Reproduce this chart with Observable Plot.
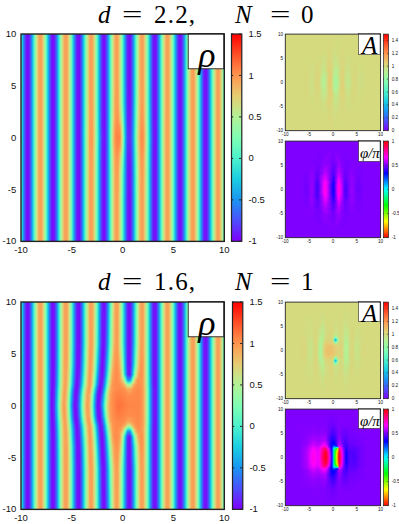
<!DOCTYPE html>
<html>
<head>
<meta charset="utf-8">
<script src="https://cdn.jsdelivr.net/npm/d3@7"></script>
<script src="https://cdn.jsdelivr.net/npm/@observablehq/plot@0.6"></script>
<style>
html,body{margin:0;padding:0;background:#fff;width:399px;height:524px;overflow:hidden}
#c{position:relative;width:399px;height:524px}
.t{position:absolute;left:0;width:399px;height:30px;font:25px/29px "Liberation Serif",serif;white-space:nowrap;color:#000}
.t span{position:absolute;top:0}
.t .e{transform:scaleX(1.45);transform-origin:left center}
.t .n{letter-spacing:1.2px}
.t .v{font-style:italic}
</style>
</head>
<body>
<div id="c"></div>
<script>
const titles = [["d","2.2,","N","0"],["d","1.6,","N","1"]];
const axisTicks = [-10,-5,0,5,10];
const rhoTicks = [-1,-0.5,0,0.5,1,1.5];
const ampTicks = [0,0.2,0.4,0.6,0.8,1,1.2,1.4];
const phaseTicks = [-1,-0.5,0,0.5,1];
const rainbowStops = ["#8000ff","#4c4ffc","#1a96f2","#1acee3","#4cf2ce","#80ffb4","#b3f296","#e6ce74","#ff964f","#ff4f28","#ff0000"];
const hsvStops = ["#ff0000","#ffff00","#00ff00","#00ffff","#0000ff","#ff00ff","#ff0000"];

// rho: far-field stripe profile, x = -10 ... 10 in steps of 0.25
const rhoFar = [.06,-.54,-.93,-.97,-.64,-.06,.54,.93,.97,.64,.06,-.54,-.93,-.97,-.64,-.06,.54,.93,.97,.64,.06,-.54,-.93,-.97,-.64,-.06,.54,.93,.97,.64,.06,-.54,-.93,-.97,-.64,-.06,.54,.93,.97,.64,.06,-.54,-.93,-.97,-.64,-.06,.54,.93,.97,.64,.06,-.54,-.93,-.97,-.64,-.06,.54,.93,.97,.64,.06,-.54,-.93,-.97,-.64,-.06,.54,.93,.97,.64,.06,-.54,-.93,-.97,-.64,-.06,.54,.93,.97,.64,.06];

// d = 2.2: central rows, x = -3.5 ... 4
const rhoTopY = [0,1,2,3.5];
const rhoTop0 = [.55,.95,1,.68,.1,-.5,-.9,-.97,-.65,0,.68,1.02,1.08,1.05,.5,-.38,-.84,-.87,-.55,.08,.68,1.0,1.04,.72,.1,-.5,-.9,-.97,-.64,-.05,.55];
const rhoTop1 = [.54,.94,.99,.66,.08,-.52,-.92,-.97,-.65,-.02,.62,1,1.05,.98,.42,-.42,-.87,-.9,-.58,.05,.64,.98,1.03,.7,.08,-.52,-.92,-.97,-.64,-.05,.55];
const rhoTop2 = [.54,.93,.98,.65,.07,-.53,-.93,-.97,-.64,-.04,.57,.96,1.02,.78,.24,-.46,-.9,-.93,-.6,0,.58,.95,1,.66,.07,-.53,-.93,-.97,-.64,-.06,.54];
const rhoTop3 = [.54,.93,.97,.64,.06,-.54,-.93,-.97,-.64,-.05,.55,.94,.99,.68,.1,-.5,-.92,-.96,-.63,-.04,.55,.93,.98,.65,.06,-.54,-.93,-.97,-.64,-.06,.54];

// d = 1.6: central rows, x = -7 ... 4.5
const rhoBotY = [0,1,1.6,2,2.25,2.5,3,4,6];
const rhoBot0 = [-.99,-.87,-.38,.26,.79,1,.75,.13,-.56,-.97,-.91,-.5,.12,.69,.99,.84,.24,-.48,-.96,-.93,-.5,.12,.72,.96,1.03,1.07,1.12,1.12,1.1,1.08,1.06,1.05,1.05,1.05,1.05,1.04,.98,.68,.12,-.5,-.9,-.97,-.64,-.06,.54,.93,.97];
const rhoBot1 = [-.98,-.9,-.45,.18,.72,.99,.8,.22,-.46,-.92,-.95,-.6,0,.6,.95,.89,.36,-.36,-.88,-.98,-.67,-.05,.6,.92,1.02,1.05,1.08,1.08,1.06,1.05,1.03,1.03,1.04,1.04,1.05,1.03,.98,.7,.12,-.5,-.9,-.97,-.64,-.06,.54,.93,.97];
const rhoBot2 = [-.96,-.93,-.5,.1,.66,.97,.85,.35,-.32,-.84,-.99,-.72,-.15,.45,.88,.98,.56,-.12,-.72,-1,-.8,-.3,.4,.85,1,1.03,1.04,1.04,1.03,1,.9,.92,1,1.03,1.04,1.03,.98,.68,.1,-.5,-.9,-.97,-.64,-.06,.54,.93,.97];
const rhoBot3 = [-.95,-.95,-.55,.05,.62,.95,.9,.45,-.2,-.75,-1,-.8,-.3,.3,.8,1,.75,.1,-.55,-.95,-.9,-.45,.2,.75,1,1.03,1.03,1.03,.95,.8,.5,.45,.85,1,1.03,1.01,.97,.66,.08,-.52,-.92,-.97,-.64,-.06,.54,.93,.97];
const rhoBot4 = [-.94,-.96,-.56,.03,.61,.94,.91,.48,-.17,-.72,-.99,-.83,-.35,.27,.77,1,.78,.15,-.5,-.92,-.92,-.52,.12,.7,.98,1.03,1.03,1,.85,.5,-.1,-.1,.55,.9,1.02,1.01,.97,.65,.07,-.53,-.93,-.97,-.64,-.06,.54,.93,.97];
const rhoBot5 = [-.94,-.96,-.58,.02,.6,.94,.92,.5,-.15,-.7,-.98,-.85,-.38,.22,.75,1,.8,.2,-.45,-.9,-.95,-.58,.05,.65,.96,1.03,1.02,.97,.75,.15,-.55,-.55,.25,.85,1,1.01,.97,.65,.07,-.53,-.93,-.97,-.64,-.06,.54,.93,.97];
const rhoBot6 = [-.93,-.96,-.6,0,.58,.93,.93,.55,-.1,-.65,-.97,-.9,-.45,.15,.7,1,.85,.3,-.35,-.85,-.98,-.7,-.1,.55,.93,1.03,1.03,.95,.5,-.35,-.9,-.95,-.3,.45,.9,1.03,.99,.65,.06,-.54,-.93,-.97,-.64,-.06,.54,.93,.97];
const rhoBot7 = [-.93,-.97,-.62,-.03,.56,.93,.96,.6,.01,-.58,-.95,-.95,-.55,.03,.62,.97,.9,.45,-.2,-.75,-1,-.8,-.3,.35,.8,1,1.01,.85,.3,-.45,-.92,-.97,-.5,.15,.7,1,.99,.65,.06,-.54,-.93,-.97,-.64,-.06,.54,.93,.97];
const rhoBot8 = [-.93,-.97,-.64,-.06,.54,.93,.97,.64,.06,-.54,-.93,-.97,-.64,-.06,.54,.93,.97,.6,0,-.6,-.96,-.92,-.52,.08,.62,.95,.97,.66,.1,-.52,-.93,-.97,-.62,-.03,.56,.94,.97,.64,.06,-.54,-.93,-.97,-.64,-.06,.54,.93,.97];

// A, d = 2.2
const ampTopX = [-10,-6.5,-5.6,-4.35,-3.1,-1.9,-.6,.6,1.9,3.1,4.4,5.65,7,10];
const ampTopY = [0,1,2,3.5,5,7,10];
const ampTop0 = [1,1,1.01,.97,1.03,.89,1.08,.84,1.05,.93,1.02,.98,1,1];
const ampTop1 = [1,1,1.01,.98,1.03,.9,1.07,.86,1.05,.94,1.02,.98,1,1];
const ampTop2 = [1,1,1.01,.98,1.02,.93,1.06,.9,1.04,.96,1.01,.99,1,1];
const ampTop3 = [1,1,1,.99,1.01,.96,1.04,.94,1.02,.98,1.01,.99,1,1];
const ampTop4 = [1,1,1,1,1,.98,1.02,.97,1.01,.99,1,1,1,1];
const ampTop5 = [1,1,1,1,1,1,1.01,.99,1,1,1,1,1,1];
const ampTop6 = [1,1,1,1,1,1,1,1,1,1,1,1,1,1];

// phi/pi, d = 2.2
const phaseTopX = [-10,-6.5,-5.5,-4.4,-3.2,-1.6,.1,1.2,2.6,3.9,5.2,6.5,10];
const phaseTopY = [0,1,2,3,4,5.5,8,10];
const phaseTop0 = [.5,.5,.48,.54,.41,.72,.33,.74,.42,.54,.47,.5,.5];
const phaseTop1 = [.5,.5,.48,.53,.42,.7,.34,.72,.43,.53,.48,.5,.5];
const phaseTop2 = [.5,.5,.49,.53,.44,.65,.38,.67,.45,.53,.48,.5,.5];
const phaseTop3 = [.5,.5,.49,.52,.46,.6,.42,.61,.47,.52,.49,.5,.5];
const phaseTop4 = [.5,.5,.5,.51,.48,.56,.45,.57,.48,.51,.49,.5,.5];
const phaseTop5 = [.5,.5,.5,.5,.49,.52,.48,.53,.49,.5,.5,.5,.5];
const phaseTop6 = [.5,.5,.5,.5,.5,.5,.5,.5,.5,.5,.5,.5,.5];
const phaseTop7 = [.5,.5,.5,.5,.5,.5,.5,.5,.5,.5,.5,.5,.5];

// A, d = 1.6
const ampBotX = [-10,-7,-6,-4.75,-3.5,-2.6,-2.1,-1.6,-.8,0,.2,.5,.8,1.2,1.9,2.7,3.9,5,6.2,7.5,10];
const ampBotY = [0,1,1.7,2.15,2.6,3.2,4.5,6,8,10];
const ampBot0 = [1,1,1.02,.95,1.03,.86,.98,1.08,1.09,1.08,1.07,1.05,1.03,1.03,1.03,.88,1.03,.95,1.01,1,1];
const ampBot1 = [1,1,1.02,.95,1.03,.87,.97,1.07,1.08,1.07,1.06,1.04,1.02,1.02,1.03,.88,1.03,.95,1.01,1,1];
const ampBot2 = [1,1,1.01,.96,1.03,.89,.95,1.03,1.04,1.02,.95,.62,.88,1,1.02,.89,1.02,.96,1,1,1];
const ampBot3 = [1,1,1.01,.97,1.03,.91,.93,1.01,1.02,1,.72,.18,.62,.95,1.02,.9,1.02,.97,1,1,1];
const ampBot4 = [1,1,1.01,.97,1.02,.92,.92,1,1.02,1,.88,.62,.86,.98,1.01,.91,1.02,.98,1,1,1];
const ampBot5 = [1,1,1,.98,1.02,.95,.92,.98,1.02,1.01,.98,.96,.96,.99,1.01,.93,1.01,.98,1,1,1];
const ampBot6 = [1,1,1,.98,1.01,.97,.94,.99,1.01,1.01,1,.97,.98,1,1.01,.95,1.01,.99,1,1,1];
const ampBot7 = [1,1,1,.99,1,.99,.97,1,1,1,1,.99,.99,1,1,.98,1,1,1,1,1];
const ampBot8 = [1,1,1,1,1,1,.99,1,1,1,1,1,1,1,1,.99,1,1,1,1,1];
const ampBot9 = [1,1,1,1,1,1,1,1,1,1,1,1,1,1,1,1,1,1,1,1,1];

// phi/pi, d = 1.6
const phaseBotX = [-10,-7,-5.5,-4.2,-3,-2.3,-1.6,-1,-.5,-.1,.05,.35,.8,1.15,1.2,1.6,2.1,2.75,3.5,4.5,5.7,7,10];
const phaseBotY = [0,1,1.8,2.2,2.6,3.5,5,7,10];
const phaseBot0 = [.5,.5,.56,.7,.64,.82,.98,.85,.55,.3,.05,-.3,-.68,-.98,.98,.85,.6,.34,.45,.43,.48,.5,.5];
const phaseBot1 = [.5,.5,.56,.69,.63,.8,.96,.82,.52,.28,.05,-.28,-.65,-.95,.95,.82,.58,.35,.45,.44,.48,.5,.5];
const phaseBot2 = [.5,.5,.55,.66,.62,.76,.88,.7,.45,.25,.08,-.15,-.45,-.8,.9,.75,.54,.38,.46,.45,.48,.5,.5];
const phaseBot3 = [.5,.5,.54,.63,.59,.7,.74,.58,.4,.27,.2,.15,.2,.6,.7,.64,.5,.4,.46,.46,.48,.5,.5];
const phaseBot4 = [.5,.5,.53,.6,.57,.63,.66,.52,.38,.3,.3,.33,.42,.55,.58,.56,.47,.42,.47,.47,.49,.5,.5];
const phaseBot5 = [.5,.5,.52,.56,.54,.56,.57,.47,.4,.36,.36,.38,.44,.51,.52,.52,.46,.44,.48,.48,.49,.5,.5];
const phaseBot6 = [.5,.5,.51,.52,.51,.52,.52,.48,.45,.43,.43,.44,.47,.5,.5,.5,.48,.47,.49,.49,.5,.5,.5];
const phaseBot7 = [.5,.5,.5,.5,.5,.5,.5,.49,.49,.48,.48,.49,.49,.5,.5,.5,.5,.5,.5,.5,.5,.5,.5];
const phaseBot8 = [.5,.5,.5,.5,.5,.5,.5,.5,.5,.5,.5,.5,.5,.5,.5,.5,.5,.5,.5,.5,.5,.5,.5];

// build tables (field is mirror-symmetric in y)
const rhoX = d3.range(81).map(i => -10 + i / 4);
function table(xs, ys, rows) {
  const out = [];
  ys.forEach((y, j) => {
    for (const s of y === 0 ? [1] : [1, -1])
      xs.forEach((x, i) => out.push({x, y: s * y, v: rows[j][i]}));
  });
  return out;
}
const spliceRow = (w, start) => [...rhoFar.slice(0, start), ...w, ...rhoFar.slice(start + w.length)];
const rhoTopTable = table(rhoX, [...rhoTopY, 6, 10],
  [...[rhoTop0, rhoTop1, rhoTop2, rhoTop3].map(w => spliceRow(w, 26)), rhoFar, rhoFar]);
const rhoBotTable = table(rhoX, [...rhoBotY, 10],
  [...[rhoBot0, rhoBot1, rhoBot2, rhoBot3, rhoBot4, rhoBot5, rhoBot6, rhoBot7, rhoBot8].map(w => spliceRow(w, 12)), rhoFar]);
const ampTopTable = table(ampTopX, ampTopY, [ampTop0, ampTop1, ampTop2, ampTop3, ampTop4, ampTop5, ampTop6]);
const phaseTopTable = table(phaseTopX, phaseTopY, [phaseTop0, phaseTop1, phaseTop2, phaseTop3, phaseTop4, phaseTop5, phaseTop6, phaseTop7]);
const ampBotTable = table(ampBotX, ampBotY, [ampBot0, ampBot1, ampBot2, ampBot3, ampBot4, ampBot5, ampBot6, ampBot7, ampBot8, ampBot9]);
const phaseBotTable = table(phaseBotX, phaseBotY, [phaseBot0, phaseBot1, phaseBot2, phaseBot3, phaseBot4, phaseBot5, phaseBot6, phaseBot7, phaseBot8]);

const stopsDomain = (a, b, n) => d3.range(n).map(i => a + (b - a) * i / (n - 1));
const rhoColor = {type: "linear", domain: stopsDomain(-1, 1.5, 11), range: rainbowStops, clamp: true};
const ampColor = {type: "linear", domain: stopsDomain(0, 1.5, 11), range: rainbowStops, clamp: true};
const phaseColor = {type: "linear", domain: stopsDomain(-1, 1, 7), range: hsvStops, clamp: true};

const host = document.getElementById("c");
function place(el, left, top) {
  el.style.position = "absolute";
  el.style.left = left + "px";
  el.style.top = top + "px";
  el.style.background = "transparent";
  el.style.overflow = "visible";
  host.appendChild(el);
}

function heat({data, color, l, t, w, h, fs, box, label, labelFont, labelAt, sw}) {
  const ml = fs * 3, mr = fs, mt = fs, mb = fs * 2;
  const el = Plot.plot({
    width: w + ml + mr, height: h + mt + mb,
    marginLeft: ml, marginRight: mr, marginTop: mt, marginBottom: mb,
    style: {fontFamily: "Liberation Sans", fontSize: fs + "px", color: "#111"},
    x: {domain: [-10, 10], label: null},
    y: {domain: [-10, 10], label: null},
    color,
    marks: [
      Plot.raster(data, {x: "x", y: "y", fill: "v", interpolate: "barycentric", pixelSize: 1, imageRendering: "auto"}),
      Plot.rect([box], {x1: d => d[0], x2: () => 10, y1: d => d[1], y2: () => 10, fill: "white", stroke: "#333", strokeWidth: sw * .7}),
      Plot.text([label], {x: labelAt[0], y: labelAt[1], text: d => d, fontFamily: "Liberation Serif", fontStyle: "italic", fontSize: labelFont, fill: "black", textAnchor: "middle"}),
      Plot.frame({stroke: "#222", strokeWidth: sw}),
      Plot.axisX(axisTicks, {anchor: "bottom", tickSize: 0, tickPadding: fs * .55, tickFormat: String, fontSize: fs, fill: "#111"}),
      Plot.axisY(axisTicks, {anchor: "left", tickSize: 0, tickPadding: fs * .5, tickFormat: String, fontSize: fs, fill: "#111"})
    ]
  });
  place(el, l - ml, t - mt);
}

function bar({color, dom, ticks, l, t, w, h, fs, sw}) {
  const mt = fs, mb = fs, mr = fs * 2.8;
  const el = Plot.plot({
    width: w + mr + 1, height: h + mt + mb,
    marginLeft: 1, marginRight: mr, marginTop: mt, marginBottom: mb,
    style: {fontFamily: "Liberation Sans", fontSize: fs + "px", color: "#111"},
    x: {domain: [0, 1], axis: null},
    y: {domain: dom, label: null},
    color,
    marks: [
      Plot.raster({x1: 0, x2: 1, y1: dom[0], y2: dom[1], fill: (x, y) => y, width: 1, height: Math.round(h)}),
      Plot.ruleY(ticks, {x1: () => 0, x2: () => .22, stroke: "#222", strokeWidth: sw * .8}),
      Plot.ruleY(ticks, {x1: () => .78, x2: () => 1, stroke: "#222", strokeWidth: sw * .8}),
      Plot.frame({stroke: "#222", strokeWidth: sw}),
      Plot.axisY(ticks, {anchor: "right", tickSize: 0, tickPadding: fs * .7, tickFormat: String, fontSize: fs, fill: "#111"})
    ]
  });
  place(el, l - 1, t - mt);
}

function title(t, topPx) {
  const d = document.createElement("div");
  d.className = "t";
  d.style.top = topPx + "px";
  d.innerHTML = `<span class="v" style="left:98px">${t[0]} </span><span class="e" style="left:122px">= </span><span class="n" style="left:154px">${t[1]} </span><span class="v" style="left:235px">${t[2]} </span><span class="e" style="left:270px">= </span><span style="left:301px">${t[3]}</span>`;
  host.appendChild(d);
}
title(titles[0], 0);
title(titles[1], 267);

const big = {l: 20.7, w: 203.3, h: 207.4, fs: 9.5, box: [6.5, 6.6], label: "ρ", labelFont: 36, labelAt: [8.3, 7.9], sw: 1.4};
heat({...big, data: rhoTopTable, color: rhoColor, t: 33.3});
heat({...big, data: rhoBotTable, color: rhoColor, t: 301.3});
bar({color: rhoColor, dom: [-1, 1.5], ticks: rhoTicks, l: 230.7, t: 33.3, w: 10.3, h: 207.4, fs: 9.5, sw: 1.2});
bar({color: rhoColor, dom: [-1, 1.5], ticks: rhoTicks, l: 231.7, t: 301.3, w: 10.3, h: 207.4, fs: 9.5, sw: 1.2});

const small = {l: 285, w: 95.3, h: 96.6, fs: 4.6, sw: .9};
heat({...small, data: ampTopTable, color: ampColor, t: 33.3, box: [5.5, 5.7], label: "A", labelFont: 25, labelAt: [7.7, 7.5]});
heat({...small, data: phaseTopTable, color: phaseColor, t: 141, box: [5.5, 5.7], label: "φ/π", labelFont: 15, labelAt: [7.75, 7.5]});
heat({...small, data: ampBotTable, color: ampColor, t: 301.3, box: [5.5, 5.9], label: "A", labelFont: 25, labelAt: [7.7, 7.6]});
heat({...small, data: phaseBotTable, color: phaseColor, t: 409, box: [5.5, 5.9], label: "φ/π", labelFont: 15, labelAt: [7.75, 7.6]});
const sb = {l: 383, w: 5, h: 96.6, fs: 4.6, sw: .7};
bar({...sb, color: ampColor, dom: [0, 1.5], ticks: ampTicks, t: 33.3});
bar({...sb, color: phaseColor, dom: [-1, 1], ticks: phaseTicks, t: 141});
bar({...sb, color: ampColor, dom: [0, 1.5], ticks: ampTicks, t: 301.3});
bar({...sb, color: phaseColor, dom: [-1, 1], ticks: phaseTicks, t: 409});
</script>
</body>
</html>
